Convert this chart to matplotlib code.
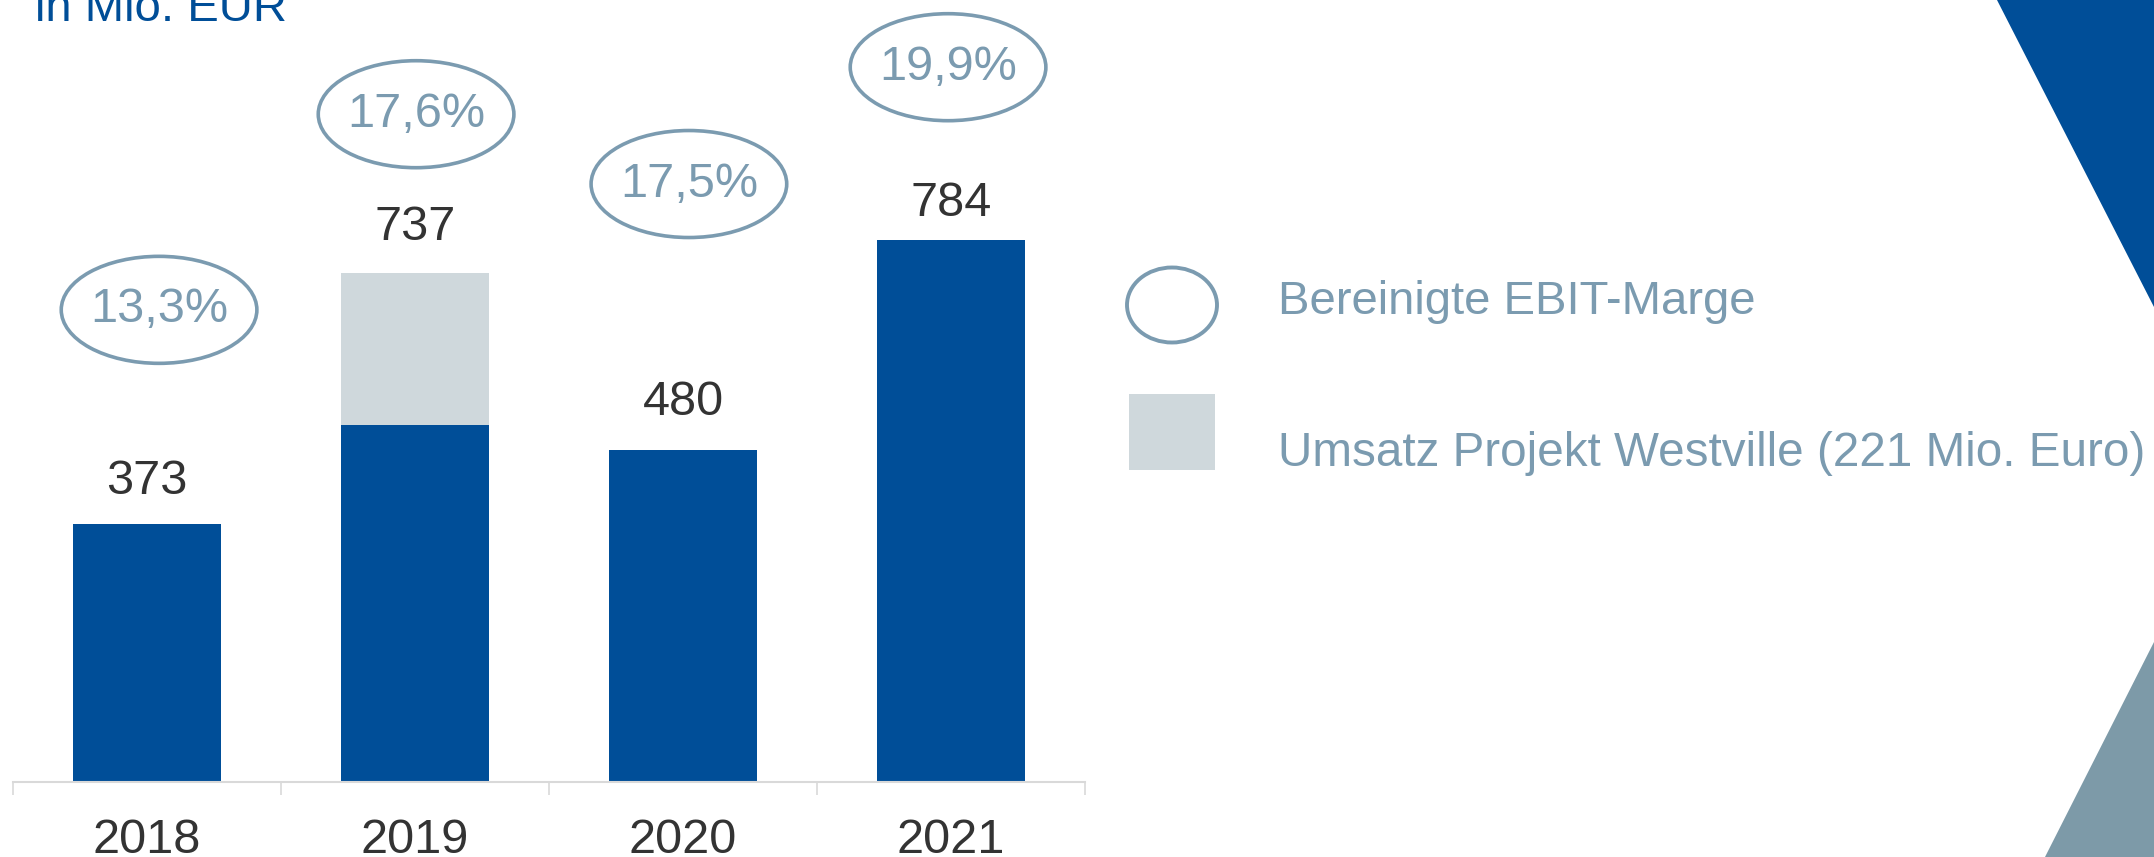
import matplotlib
matplotlib.use("Agg")
import matplotlib.pyplot as plt
from matplotlib.patches import Ellipse, Rectangle, Polygon
from matplotlib.transforms import IdentityTransform, blended_transform_factory

# ---- data ----
years = ["2018", "2019", "2020", "2021"]
base_revenue = [373, 516, 480, 784]
westville_revenue = [0, 221, 0, 0]
total_labels = ["373", "737", "480", "784"]
ebit_margins = ["13,3%", "17,6%", "17,5%", "19,9%"]
unit_label = "in Mio. EUR"
legend_labels = ["Bereinigte EBIT-Marge", "Umsatz Projekt Westville (221 Mio. Euro)"]

# ---- layout / style ----
W, H = 2154, 857
BLUE = "#004E98"
GRAY = "#CFD8DC"
MARGIN_C = "#7B9BB0"
TRI_GRAY = "#7D9AA8"
TEXT_DARK = "#333333"
AXIS_C = "#D9D9D9"
bubble_dx = [0.045, 0.004, 0.022, -0.011]
bubble_y = [683, 966, 865, 1034]
label_gap_px = [30, 33, 35, 24]

plt.rcParams["font.family"] = ["Liberation Sans", "DejaVu Sans"]

fig = plt.figure(figsize=(W / 100, H / 100), dpi=100)
px_per_unit = 0.6913
ax_bottom_px = 782
ax = fig.add_axes([13 / W, (H - ax_bottom_px) / H, (1085 - 13) / W, ax_bottom_px / H])
ax.set_xlim(-0.5, 3.5)
ax.set_ylim(0, ax_bottom_px / px_per_unit)

x = list(range(len(years)))
ax.bar(x, base_revenue, width=0.55, color=BLUE, linewidth=0)
ax.bar(x, westville_revenue, bottom=base_revenue, width=0.55, color=GRAY, linewidth=0)

for s in ["top", "right", "left"]:
    ax.spines[s].set_visible(False)
ax.spines["bottom"].set_color(AXIS_C)
ax.spines["bottom"].set_linewidth(1.5)
ax.set_yticks([])
ax.set_xticks([])
ax.set_xticks([-0.5, 0.5, 1.5, 2.5, 3.5], minor=True)
ax.tick_params(axis="x", which="minor", length=9.5, width=1.2, color=AXIS_C, labelbottom=False)

totals = [b + w for b, w in zip(base_revenue, westville_revenue)]
for xi, t, lab, gap in zip(x, totals, total_labels, label_gap_px):
    ax.annotate(lab, (xi, t), xytext=(0, gap * 0.72), textcoords="offset points",
                ha="center", va="baseline", fontsize=35, color=TEXT_DARK)

ytr = blended_transform_factory(ax.transData, fig.transFigure)
for xi, yr in zip(x, years):
    ax.text(xi, (H - 853) / H, yr, transform=ytr, ha="center", va="baseline",
            fontsize=35, color=TEXT_DARK)

ell_h = 107 / px_per_unit
for xi, dx, by, m in zip(x, bubble_dx, bubble_y, ebit_margins):
    ax.add_patch(Ellipse((xi + dx, by), width=0.73, height=ell_h, fill=False,
                         edgecolor=MARGIN_C, linewidth=2.6, clip_on=False))
    ax.text(xi + dx, by, m, ha="center", va="center", fontsize=35, color=MARGIN_C)

# unit label (top-left, partly cut as in the original)
fig.text(35 / W, (H - 21) / H, unit_label, ha="left", va="baseline", fontsize=34, color=BLUE)

# legend
idt = IdentityTransform()
fig.add_artist(Ellipse((1172, H - 305), 90, 75, fill=False, edgecolor=MARGIN_C,
                       linewidth=2.8, transform=idt))
fig.add_artist(Rectangle((1129, H - 470), 86, 76, facecolor=GRAY, linewidth=0, transform=idt))
fig.text(1278 / W, (H - 314) / H, legend_labels[0], ha="left", va="baseline",
         fontsize=34, color=MARGIN_C)
fig.text(1278 / W, (H - 466) / H, legend_labels[1], ha="left", va="baseline",
         fontsize=34.3, color=MARGIN_C)

# decorative triangles
fig.add_artist(Polygon([(1997, H), (W, H), (W, H - 307)], closed=True, facecolor=BLUE,
                       linewidth=0, transform=idt))
fig.add_artist(Polygon([(2045, 0), (W, 0), (W, H - 642)], closed=True, facecolor=TRI_GRAY,
                       linewidth=0, transform=idt))

fig.savefig("out.png", dpi=100)
